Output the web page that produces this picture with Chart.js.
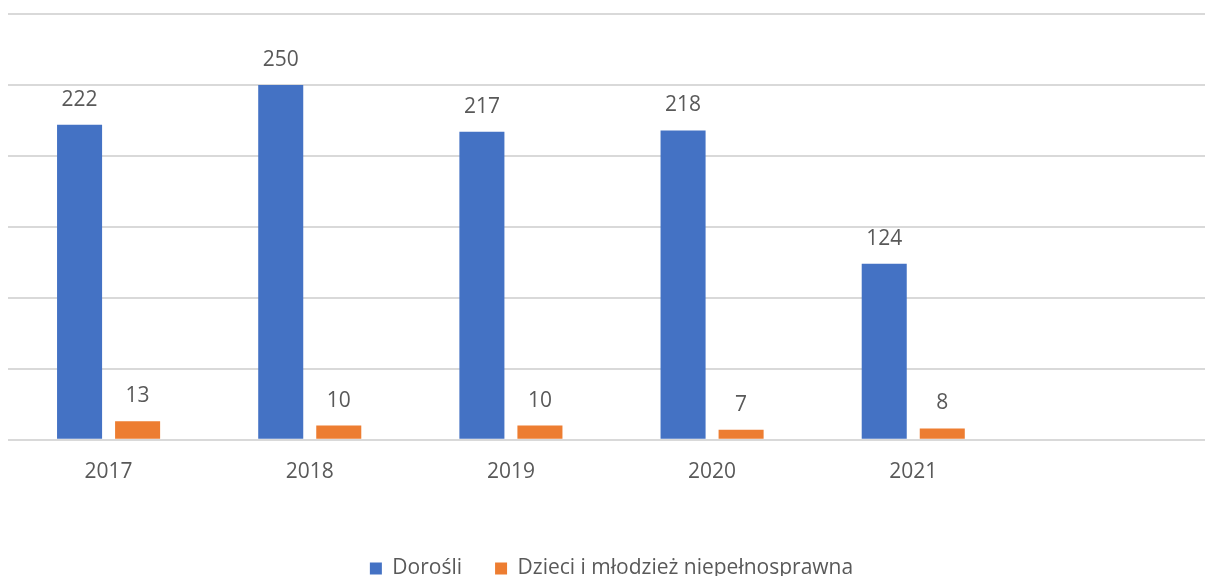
<!DOCTYPE html>
<html>
<head>
<meta charset="utf-8">
<script src="https://cdn.jsdelivr.net/npm/chart.js@4.4.1/dist/chart.umd.min.js"></script>
<style>
  html, body { margin: 0; padding: 0; background: #fff; overflow: hidden; }
  /* plot runs a little past the right edge, as in the source picture */
  #wrap { width: 1215px; height: 576px; }
</style>
</head>
<body>
<div id="wrap"><canvas id="barChart"></canvas></div>
<script>
// Chart data
const years = ['2017', '2018', '2019', '2020', '2021', ''];
const adults = [222, 250, 217, 218, 124];
const children = [13, 10, 10, 7, 8];
const seriesNames = ['Dorośli', 'Dzieci i młodzież niepełnosprawna'];

const textColor = '#595959';
const fontFamily = '"Open Sans", "Noto Sans", sans-serif';

// Draw value labels above each bar
const valueLabels = {
    id: 'valueLabels',
    afterDatasetsDraw(chart) {
        const c = chart.ctx;
        c.save();
        c.font = '21px ' + fontFamily;
        c.fillStyle = textColor;
        c.textAlign = 'center';
        c.textBaseline = 'middle';
        chart.data.datasets.forEach((ds, i) => {
            const meta = chart.getDatasetMeta(i);
            meta.data.forEach((bar, j) => {
                if (ds.data[j] == null) return;
                c.fillText(ds.data[j], bar.x, bar.y - 25);
            });
        });
        c.restore();
    }
};

const ctx = document.getElementById('barChart').getContext('2d');
const barChart = new Chart(ctx, {
    type: 'bar',
    data: {
        labels: years,
        datasets: [
            {
                label: seriesNames[0],
                data: adults,
                backgroundColor: '#4472C4',
                categoryPercentage: 0.577,
                barPercentage: 0.776
            },
            {
                label: seriesNames[1],
                data: children,
                backgroundColor: '#ED7D31',
                categoryPercentage: 0.577,
                barPercentage: 0.776
            }
        ]
    },
    options: {
        responsive: true,
        maintainAspectRatio: false,
        animation: false,
        layout: { padding: { left: 8, right: 0, top: 14, bottom: -13 } },
        scales: {
            x: {
                grid: { display: false },
                border: { display: false },
                ticks: {
                    color: textColor,
                    font: { family: fontFamily, size: 21 },
                    padding: 12
                },
                // leave room between year labels and legend
                afterFit(scale) { scale.height += 28; }
            },
            y: {
                min: 0,
                max: 300,
                ticks: { display: false, stepSize: 50 },
                grid: { color: '#d9d9d9', lineWidth: 2, drawTicks: false },
                border: { display: false }
            }
        },
        plugins: {
            legend: {
                position: 'bottom',
                labels: {
                    color: textColor,
                    font: { family: fontFamily, size: 21 },
                    boxWidth: 12,
                    boxHeight: 12,
                    padding: 33
                }
            },
            tooltip: { enabled: false }
        }
    },
    plugins: [valueLabels]
});
</script>
</body>
</html>
